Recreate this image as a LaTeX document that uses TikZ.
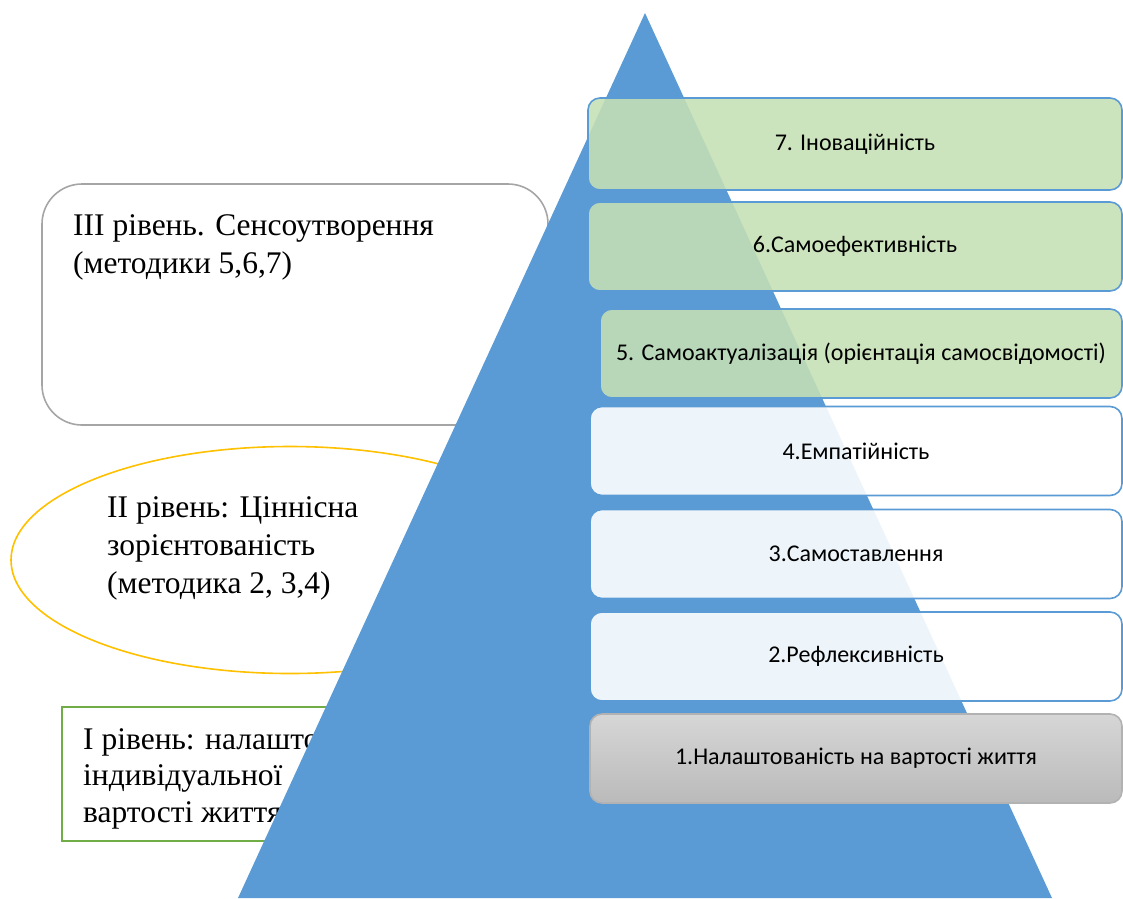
\documentclass[tikz,border=0pt]{standalone}
\usepackage{fontspec}
\setmainfont{Liberation Serif}
\newfontfamily\stagefont{Carlito}
\usetikzlibrary{shapes.geometric, positioning}
\definecolor{pyrblue}{HTML}{5B9BD5}
\definecolor{stagegreen}{HTML}{C5E0B4}
\definecolor{ovalyellow}{HTML}{FFC000}
\definecolor{rectgreen}{HTML}{70AD47}
\definecolor{framegray}{HTML}{A5A5A5}
\tikzset{
    stagebox/.style={draw=pyrblue, line width=1.6pt, rounded corners=12pt,
        minimum width=532pt, minimum height=89pt, inner sep=0pt,
        font=\stagefont\fontsize{24}{28}\selectfont},
    greenstage/.style={stagebox, fill=stagegreen, fill opacity=0.88, text opacity=1},
    lightstage/.style={stagebox, fill=white, fill opacity=0.9, text opacity=1},
    graystage/.style={stagebox, draw=black!30, top color=black!16, bottom color=black!27},
    leveltext/.style={font=\fontsize{31.5}{38}\selectfont, align=left,
        inner sep=0pt, anchor=north west},
}

\begin{document}
\begin{tikzpicture}[x=1pt, y=-1pt]
    \useasboundingbox (0,0) rectangle (1123,898);

    % levels on the left
    \draw[framegray, line width=1.6pt, rounded corners=40pt] (42,184) rectangle (548,425);
    \node[leveltext] (lvlthree) at (73,214) {III рівень. Сенсоутворення\\(методики 5,6,7)};
    \node[draw=ovalyellow, line width=1.6pt, ellipse, minimum width=558pt,
        minimum height=227pt] (oval) at (290,560) {};
    \node[leveltext] (lvltwo) at (107,496) {II рівень: Ціннісна\\зорієнтованість\\(методика 2, 3,4)};
    \draw[rectgreen, line width=1.6pt] (62,707) rectangle (430,841);
    \node[leveltext, font=\fontsize{31.5}{36.5}\selectfont] (lvlone) at (83,728) {I рівень: налаштованість\\індивідуальної\\вартості життя};

    % pyramid
    \fill[pyrblue] (645,13) -- (238,898) -- (1052,898) -- cycle;

    % stages
    \node[greenstage, minimum width=534pt, minimum height=92pt] (st7) at (855,144) {7. Іноваційність};
    \node[greenstage, minimum width=534pt] (st6) at (855,246.5) {6.Самоефективність};
    \node[greenstage, minimum width=522pt] (st5) at (861,353.5) {5. Самоактуалізація (орієнтація самосвідомості)};
    \node[lightstage] (st4) at (856,451) {4.Емпатійність};
    \node[lightstage] (st3) at (856,554) {3.Самоставлення};
    \node[lightstage] (st2) at (856,656.5) {2.Рефлексивність};
    \node[graystage] (st1) at (856,758.5) {1.Налаштованість на вартості життя};
\end{tikzpicture}
\end{document}
